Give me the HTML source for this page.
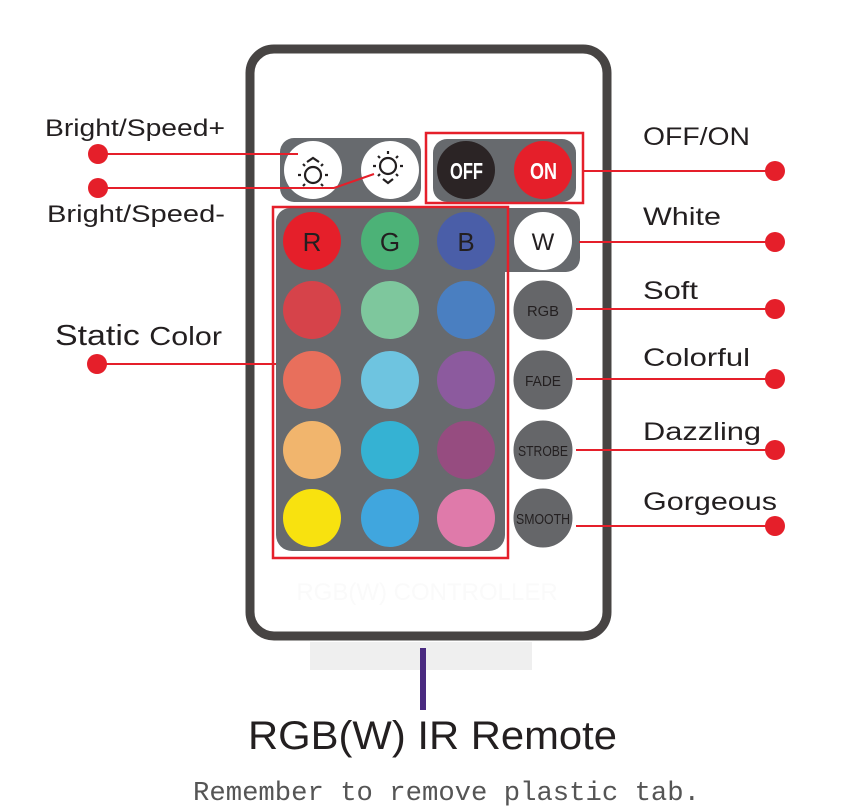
<!DOCTYPE html>
<html><head><meta charset="utf-8"><style>
html,body{margin:0;padding:0;background:#fff;}
svg{display:block}
text{font-family:"Liberation Sans",sans-serif;}
</style></head><body>
<svg width="857" height="807" viewBox="0 0 857 807" xmlns="http://www.w3.org/2000/svg">
<rect x="310" y="642" width="222" height="28" fill="#efefef"/>
<rect x="420" y="648" width="6" height="62" fill="#4a2a80"/>
<rect x="250" y="49" width="357" height="587" rx="24" fill="#fff" stroke="#474443" stroke-width="9"/>
<text x="427" y="600" font-size="24" fill="#fafafa" text-anchor="middle">RGB(W) CONTROLLER</text>
<!-- panels -->
<rect x="280" y="138" width="141" height="64" rx="14" fill="#676a6e"/>
<rect x="433" y="139" width="143" height="63" rx="14" fill="#676a6e"/>
<rect x="276" y="208" width="304" height="64" rx="14" fill="#676a6e"/>
<rect x="276" y="208" width="229" height="343" rx="16" fill="#676a6e"/>
<!-- bright buttons -->
<circle cx="313" cy="170" r="29" fill="#fff"/>
<circle cx="390" cy="170" r="29" fill="#fff"/>
<g stroke="#231f20" stroke-width="2.2" fill="none">
<circle cx="313" cy="175" r="8"/><path d="M307 162l6-4 6 4M301 175h-3M325 175h3M305 166l-2-2M321 166l2-2M305 184l-2 2M321 184l2 2"/>
<circle cx="388" cy="166" r="8"/><path d="M383 179l5 4 5-4M376 166h-3M400 166h3M380 158l-2-2M396 158l2-2M380 174l-2 2M396 174l2 2M388 154v-3"/>
</g>
<circle cx="466" cy="170" r="29" fill="#2b2425"/>
<circle cx="543" cy="170" r="29" fill="#e51f2a"/>
<text x="450" y="179" font-size="23" font-weight="bold" fill="#fff" textLength="33" lengthAdjust="spacingAndGlyphs">OFF</text>
<text x="530" y="179" font-size="23" font-weight="bold" fill="#fff" textLength="27" lengthAdjust="spacingAndGlyphs">ON</text>
<!-- color grid -->
<circle cx="312" cy="241" r="29" fill="#e51f2a"/><circle cx="390" cy="241" r="29" fill="#4cb277"/><circle cx="466" cy="241" r="29" fill="#4a5ea8"/>
<circle cx="312" cy="310" r="29" fill="#d6434a"/><circle cx="390" cy="310" r="29" fill="#7ec79d"/><circle cx="466" cy="310" r="29" fill="#4a7fc1"/>
<circle cx="312" cy="380" r="29" fill="#e86f5c"/><circle cx="390" cy="380" r="29" fill="#6ec4e0"/><circle cx="466" cy="380" r="29" fill="#8c5a9e"/>
<circle cx="312" cy="450" r="29" fill="#f1b56d"/><circle cx="390" cy="450" r="29" fill="#35b2d3"/><circle cx="466" cy="450" r="29" fill="#964c80"/>
<circle cx="312" cy="518" r="29" fill="#f8e20f"/><circle cx="390" cy="518" r="29" fill="#40a6de"/><circle cx="466" cy="518" r="29" fill="#df7aaa"/>
<g font-size="26" fill="#231f20" text-anchor="middle">
<text x="312" y="251">R</text><text x="390" y="251">G</text><text x="466" y="251">B</text></g>
<circle cx="543" cy="241" r="29" fill="#fff"/>
<text x="543" y="250" font-size="24" fill="#231f20" text-anchor="middle">W</text>
<g fill="#656669" stroke="#fff" stroke-width="1"><circle cx="543" cy="310" r="30"/><circle cx="543" cy="380" r="30"/><circle cx="543" cy="450" r="30"/><circle cx="543" cy="518" r="30"/></g>
<g font-size="15" fill="#231f20">
<text x="527" y="316" textLength="32" lengthAdjust="spacingAndGlyphs">RGB</text>
<text x="525" y="386" textLength="36" lengthAdjust="spacingAndGlyphs">FADE</text>
<text x="518" y="456" textLength="50" lengthAdjust="spacingAndGlyphs">STROBE</text>
<text x="516" y="524" textLength="54" lengthAdjust="spacingAndGlyphs">SMOOTH</text></g>
<!-- red boxes -->
<g fill="none" stroke="#e51f2a" stroke-width="2.5">
<rect x="426" y="133" width="157" height="70"/>
<rect x="273" y="207" width="235" height="351"/>
</g>
<!-- leader lines -->
<g stroke="#e51f2a" stroke-width="2" fill="none">
<path d="M98 154H298"/><path d="M98 188H334L374 174"/><path d="M98 364H276"/>
<path d="M583 171H775"/><path d="M579 242H775"/><path d="M576 309H775"/><path d="M576 379H775"/><path d="M576 450H775"/><path d="M576 526H775"/>
</g>
<g fill="#e51f2a">
<circle cx="98" cy="154" r="10"/><circle cx="98" cy="188" r="10"/><circle cx="97" cy="364" r="10"/>
<circle cx="775" cy="171" r="10"/><circle cx="775" cy="242" r="10"/><circle cx="775" cy="309" r="10"/><circle cx="775" cy="379" r="10"/><circle cx="775" cy="450" r="10"/><circle cx="775" cy="526" r="10"/>
</g>
<g font-size="24" fill="#231f20" lengthAdjust="spacingAndGlyphs">
<text x="45" y="136" textLength="180" lengthAdjust="spacingAndGlyphs">Bright/Speed+</text>
<text x="47" y="222" textLength="178" lengthAdjust="spacingAndGlyphs">Bright/Speed-</text>
<text x="55" y="345" font-size="29" textLength="167" lengthAdjust="spacingAndGlyphs">Static <tspan font-size="26">Color</tspan></text>
<text x="643" y="145" font-size="25" textLength="107" lengthAdjust="spacingAndGlyphs">OFF/ON</text>
<text x="643" y="225" font-size="25" textLength="78" lengthAdjust="spacingAndGlyphs">White</text>
<text x="643" y="299" font-size="25" textLength="55" lengthAdjust="spacingAndGlyphs">Soft</text>
<text x="643" y="366" font-size="25" textLength="107" lengthAdjust="spacingAndGlyphs">Colorful</text>
<text x="643" y="440" font-size="25" textLength="118" lengthAdjust="spacingAndGlyphs">Dazzling</text>
<text x="643" y="510" font-size="25" textLength="134" lengthAdjust="spacingAndGlyphs">Gorgeous</text>
</g>
<text x="248" y="749" font-size="40" fill="#231f20" textLength="369" lengthAdjust="spacingAndGlyphs">RGB(W) IR Remote</text>
<text x="193" y="800" font-size="27" fill="#555" textLength="507" lengthAdjust="spacingAndGlyphs" style="font-family:'Liberation Mono',monospace">Remember to remove plastic tab.</text>
</svg>
</body></html>
